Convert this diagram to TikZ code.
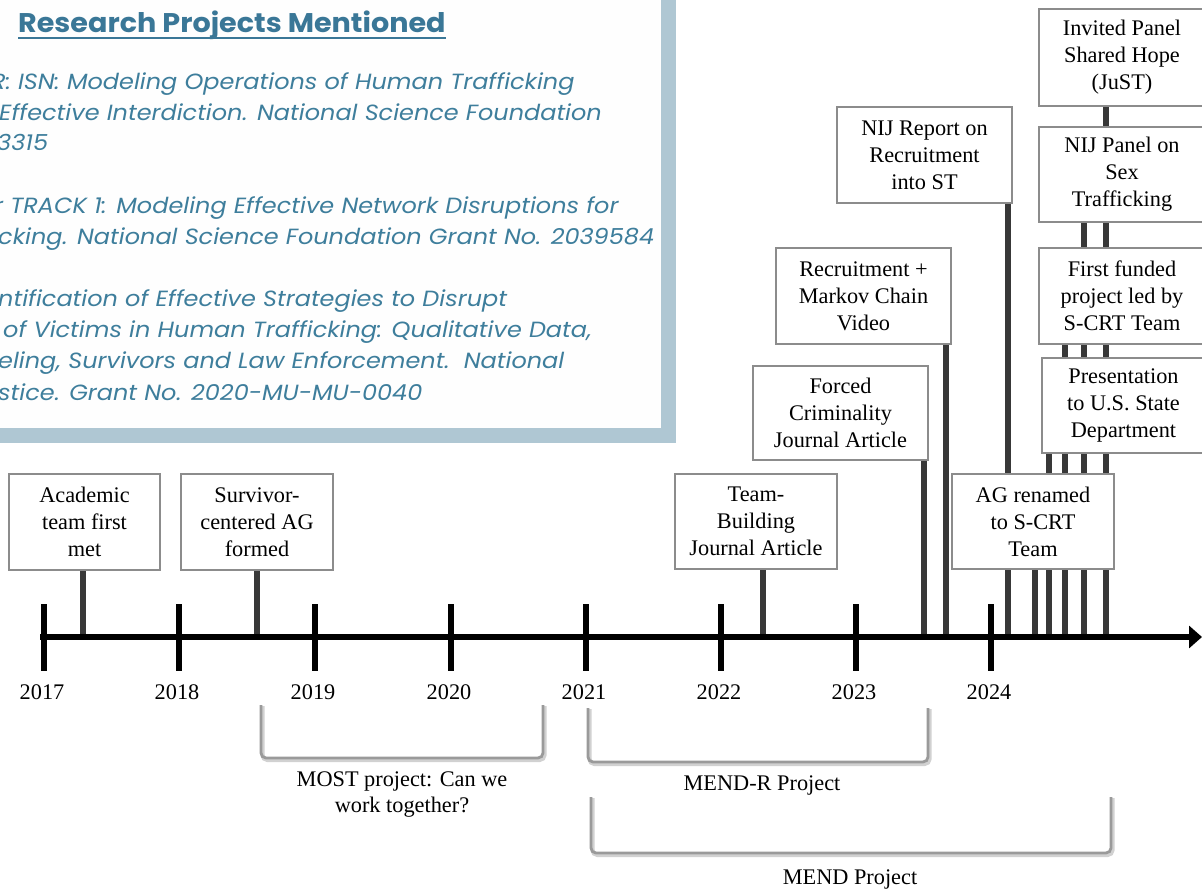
\documentclass[tikz,border=0pt]{standalone}
\usepackage{fontspec}
\setmainfont{Liberation Serif}
\newfontfamily\panelfont[FakeStretch=1.09]{Poppins}
\newfontfamily\titlefont[FakeStretch=1.06]{Poppins}
\usetikzlibrary{arrows.meta}
\pgfdeclarelayer{background}
\pgfsetlayers{background,main}
\definecolor{panelgrey}{HTML}{AFC7D3}
\definecolor{paneltext}{HTML}{3E7E9C}
\definecolor{titletext}{HTML}{3A7797}
\definecolor{boxborder}{HTML}{8C8C8C}
\definecolor{connline}{HTML}{383838}
\definecolor{brackgrey}{HTML}{9A9A9A}
\tikzset{
  evbox/.style={draw=boxborder, line width=1.3pt, fill=white, inner sep=0pt, align=center, font=\fontsize{22.3}{27}\selectfont},
  conn/.style={draw=connline, line width=5.3pt},
  yeartick/.style={draw=black, line width=5.5pt},
  yearlbl/.style={inner sep=0pt, font=\fontsize{22.3}{26}\selectfont},
  brlbl/.style={inner sep=0pt, align=center, font=\fontsize{22.3}{26}\selectfont},
  brack/.style={draw=brackgrey, line width=2.8pt, rounded corners=5pt},
  brackshadow/.style={draw=black!18, line width=4.2pt, rounded corners=5pt},
  paneltxt/.style={anchor=base west, inner sep=0pt, text=paneltext, font=\panelfont\itshape\fontsize{22}{26}\selectfont},
}
\begin{document}
\begin{tikzpicture}[x=1pt,y=-1pt]
\clip (0,0) rectangle (1202,890);
% panel
\fill[panelgrey] (-10,-10) rectangle (676,443);
\fill[white!99!panelgrey] (-10,-10) rectangle (661,428);
\node[anchor=base west, inner sep=0pt, text=titletext, font=\titlefont\bfseries\fontsize{27}{30}\selectfont] (title) at (18,33) {Research Projects Mentioned};
\draw[titletext, line width=1.8pt] ([yshift=-5pt]title.base west) -- ([yshift=-5pt]title.base east);
\node[paneltxt] (p1) at (-9,90) {R: ISN: Modeling Operations of Human Trafficking};
\node[paneltxt] (p2) at (-1,121) {Effective Interdiction. National Science Foundation};
\node[paneltxt] (p3) at (-3,151) {3315};
\node[paneltxt] (p4) at (-6,214) {r TRACK 1: Modeling Effective Network Disruptions for};
\node[paneltxt] (p5) at (-2,245) {cking. National Science Foundation Grant No. 2039584};
\node[paneltxt] (p6) at (-2,307) {ntification of Effective Strategies to Disrupt};
\node[paneltxt] (p7) at (3,338) {of Victims in Human Trafficking: Qualitative Data,};
\node[paneltxt] (p8) at (-2,369) {eling, Survivors and Law Enforcement.\ \ National};
\node[paneltxt] (p9) at (-2,400) {stice. Grant No. 2020-MU-MU-0040};
% event boxes
\node[evbox, minimum width=151pt, minimum height=96pt] (acad) at (84.5,522) {Academic\\team first\\met};
\node[evbox, minimum width=152pt, minimum height=96pt] (surv) at (257,522) {Survivor-\\centered AG\\formed};
\node[evbox, minimum width=162pt, minimum height=95pt] (team) at (756,521.5) {Team-\\Building\\Journal Article};
\node[evbox, minimum width=175pt, minimum height=94pt] (forced) at (840.5,413) {Forced\\Criminality\\Journal Article};
\node[evbox, minimum width=175pt, minimum height=96pt] (recruit) at (863.5,296) {Recruitment +\\Markov Chain\\Video};
\node[evbox, minimum width=175pt, minimum height=96pt] (nijrep) at (924.5,155) {NIJ Report on\\Recruitment\\into ST};
\node[evbox, minimum width=166pt, minimum height=97pt] (invited) at (1122,57.5) {Invited Panel\\Shared Hope\\(JuST)};
\node[evbox, minimum width=166pt, minimum height=95pt] (nijpanel) at (1122,174.5) {NIJ Panel on\\Sex\\Trafficking};
\node[evbox, minimum width=166pt, minimum height=96pt] (funded) at (1122,296) {First funded\\project led by\\S-CRT Team};
\node[evbox, minimum width=163pt, minimum height=95pt] (present) at (1123.5,405.5) {Presentation\\to U.S. State\\Department};
\node[evbox, minimum width=162pt, minimum height=95pt] (ag) at (1033,521.5) {AG renamed\\to S-CRT\\Team};
% connectors behind the boxes
\begin{pgfonlayer}{background}
\foreach \n/\xx in {acad/83, surv/257, team/763, forced/924, recruit/946, nijrep/1008, ag/1035, present/1049, funded/1065, nijpanel/1084, invited/1106} {
  \coordinate (c-\n) at (\xx,637);
  \draw[conn] (c-\n) -- (c-\n |- \n.south);
}
\end{pgfonlayer}
% axis
\coordinate (axstart) at (40,637);
\coordinate (axend) at (1202,637);
\draw[line width=5.5pt, -{Triangle[length=13pt,width=22pt]}] (axstart) -- (axend);
\foreach \yr/\xx in {2017/44, 2018/179, 2019/315, 2020/451, 2021/586, 2022/721, 2023/856, 2024/991} {
  \coordinate (tk\yr) at (\xx,637);
  \draw[yeartick] ([yshift=33pt]tk\yr) -- ([yshift=-34pt]tk\yr);
  \node[yearlbl] (yl\yr) at (\xx-2,692) {\yr};
}
% brackets
\draw[brackshadow] (262.5,706) -- (262.5,760) -- (544.5,760) -- (544.5,706);
\draw[brack] (261,705) -- (261,758) -- (543,758) -- (543,705);
\draw[brackshadow] (589.5,709) -- (589.5,764) -- (929.5,764) -- (929.5,709);
\draw[brack] (588,708) -- (588,762) -- (928,762) -- (928,708);
\draw[brackshadow] (592.5,798) -- (592.5,855) -- (1112.5,855) -- (1112.5,798);
\draw[brack] (591,797) -- (591,853) -- (1111,853) -- (1111,797);
\node[brlbl] (most) at (402,795) {MOST project: Can we\\work together?};
\node[brlbl] (mendr) at (762,785) {MEND-R Project};
\node[brlbl] (mend) at (850,879) {MEND Project};
\end{tikzpicture}
\end{document}
